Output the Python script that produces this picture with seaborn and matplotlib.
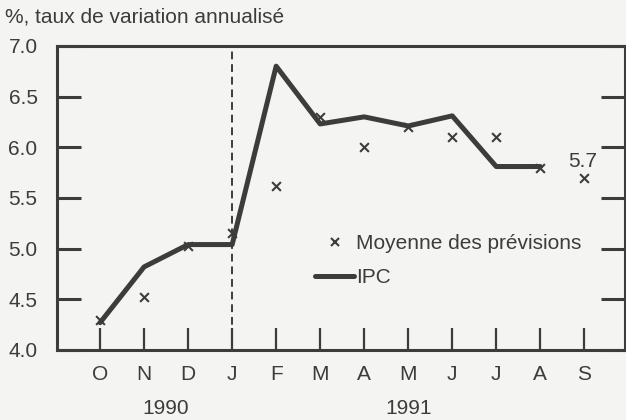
import numpy as np
import pandas as pd
import seaborn as sns
import matplotlib
matplotlib.use("Agg")
import matplotlib.pyplot as plt
from matplotlib.lines import Line2D

months = ["O", "N", "D", "J", "F", "M", "A", "M", "J", "J", "A", "S"]
ipc = [4.27, 4.82, 5.04, 5.04, 6.80, 6.23, 6.30, 6.21, 6.31, 5.81, 5.81]
prevision = [4.30, 4.52, 5.03, 5.15, 5.62, 6.30, 6.00, 6.20, 6.10, 6.10, 5.80, 5.70]
years = ["1990", "1991"]
year_pos = [1.5, 7.0]

ink = "#3c3c3a"
bg = "#f4f4f2"
fs = 15

sns.set_theme(style="white")
plt.rcParams["font.family"] = ["Liberation Sans", "DejaVu Sans"]

df_ipc = pd.DataFrame({"x": np.arange(len(ipc)), "v": ipc})
df_prev = pd.DataFrame({"x": np.arange(len(prevision)), "v": prevision})

fig = plt.figure(figsize=(6.26, 4.2), dpi=100, facecolor=bg)
ax = fig.add_axes([0.091, 0.1667, 0.907, 0.724])
ax.set_facecolor(bg)

sns.lineplot(data=df_ipc, x="x", y="v", color=ink, linewidth=3.6, ax=ax, legend=False)
sns.scatterplot(data=df_prev, x="x", y="v", marker="x", color=ink, s=40,
                linewidth=1.5, ax=ax, legend=False, zorder=3)

ax.axvline(3, color=ink, linestyle=(0, (4, 2.5)), linewidth=1.4)
ax.annotate("5.7", (11, prevision[11]), xytext=(-1, 5), textcoords="offset points",
            ha="center", va="bottom", fontsize=fs, color=ink)

ax.set_xlim(-0.98, 11.92)
ax.set_ylim(4.0, 7.0)
ax.set_yticks([4.0, 4.5, 5.0, 5.5, 6.0, 6.5, 7.0])
ax.set_yticklabels([f"{v:.1f}" for v in [4.0, 4.5, 5.0, 5.5, 6.0, 6.5, 7.0]])
ax.set_xticks(range(len(months)))
ax.set_xticklabels(months)
ax.set_xlabel("")
ax.set_ylabel("")

for s in ax.spines.values():
    s.set_color(ink)
    s.set_linewidth(2.2)

ax.tick_params(axis="y", which="both", direction="in", length=17, width=2.2,
               color=ink, labelcolor=ink, labelsize=fs, right=True, left=True,
               labelright=False, pad=14)
ax.tick_params(axis="x", direction="in", length=16, width=1.6, color=ink,
               labelcolor=ink, labelsize=fs, bottom=True, pad=11)

for yr, xp in zip(years, year_pos):
    ax.text(xp, -0.16, yr, transform=ax.get_xaxis_transform(), ha="center",
            va="top", fontsize=fs, color=ink)

fig.text(0.008, 0.96, "%, taux de variation annualisé", ha="left", va="center",
         fontsize=fs, color=ink)

handles = [Line2D([], [], color=ink, marker="x", linestyle="none", markersize=6,
                  markeredgewidth=1.5),
           Line2D([], [], color=ink, linewidth=3.6)]
ax.legend(handles, ["Moyenne des prévisions", "IPC"], loc="upper left",
          bbox_to_anchor=(0.454, 0.38), frameon=False, fontsize=fs,
          handlelength=1.9, handletextpad=0.1, labelspacing=0.69,
          borderpad=0, borderaxespad=0, labelcolor=ink)

fig.savefig("out.png", dpi=100, facecolor=bg)
